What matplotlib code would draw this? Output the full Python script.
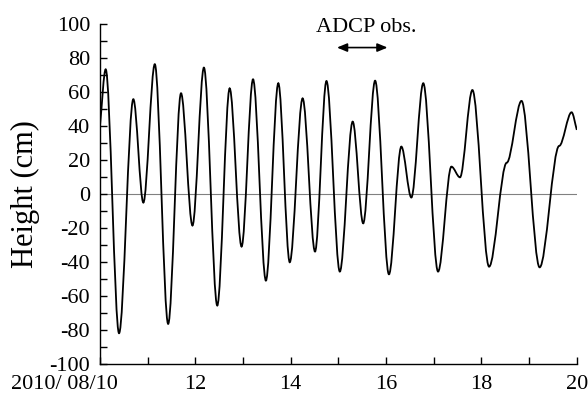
import numpy as np
import matplotlib
matplotlib.use("Agg")
import matplotlib.pyplot as plt
from matplotlib.path import Path
from matplotlib.patches import PathPatch
from matplotlib.transforms import ScaledTranslation

plt.rcParams['font.family'] = ['Liberation Serif', 'DejaVu Serif']

# -----------------------------
# Data: turning points of the tide curve
# (day of Aug 2010, height in cm)
# -----------------------------
days = [10.00, 10.12, 10.40, 10.70, 10.91, 11.15, 11.43, 11.70, 11.94,
        12.18, 12.46, 12.72, 12.97, 13.21, 13.48, 13.74, 13.98, 14.25,
        14.51, 14.75, 15.03, 15.30, 15.52, 15.77, 16.06, 16.32, 16.53,
        16.78, 17.09, 17.37, 17.55, 17.81, 18.16, 18.53, 18.84, 19.22,
        19.63, 19.89, 20.00]
height = [40.0, 73.5, -81.9, 55.9, -5.0, 76.5, -76.4, 59.4, -18.5,
          74.5, -65.6, 62.3, -30.9, 67.6, -50.9, 65.3, -40.1, 56.4,
          -33.8, 66.6, -45.6, 42.7, -17.2, 66.8, -47.2, 28.0, -2.0,
          65.3, -45.6, 16.2, 9.9, 61.3, -42.7, 18.5, 54.9, -43.1,
          28.4, 48.2, 37.8]

xticks = [10, 12, 14, 16, 18, 20]
xticklabels = ["2010/ 08/10", "12", "14", "16", "18", "20"]
yticks = list(range(-100, 101, 20))
yticklabels = [str(v) for v in yticks]

adcp_start, adcp_end = 14.97, 16.03

# -----------------------------
# Figure
# -----------------------------
fig = plt.figure(figsize=(5.88, 3.95), dpi=100)
ax = fig.add_axes([0.170, 0.0785, 0.811, 0.860])

ax.set_xlim(10, 20)
ax.set_ylim(-100, 100)

# smooth curve through the turning points (flat tangent at each point)
n = len(days)
verts = [(days[0], height[0])]
codes = [Path.MOVETO]
for i in range(n - 1):
    t0, t1 = days[i], days[i + 1]
    h0, h1 = height[i], height[i + 1]
    dt = t1 - t0
    c1 = (t0 + dt / 3, h0 if i > 0 else h0 + (h1 - h0) / 3)
    c2 = (t1 - dt / 3, h1 if i < n - 2 else h1 - (h1 - h0) / 3)
    verts += [c1, c2, (t1, h1)]
    codes += [Path.CURVE4] * 3
ax.add_patch(PathPatch(Path(verts, codes), fill=False, lw=1.3,
                       edgecolor="black", transform=ax.transData))

ax.axhline(0, color="#808080", lw=0.8, zorder=0)

# ADCP observation period
ax.annotate("", xy=(adcp_start, 86.3), xytext=(adcp_end, 86.3),
            arrowprops=dict(arrowstyle="<|-|>,head_length=0.6,head_width=0.25",
                            color="black", lw=1.2, shrinkA=0, shrinkB=0))
ax.text(15.58, 95.5, "ADCP obs.", ha="center", va="baseline",
        fontsize=16, clip_on=False)

# axes styling
for s in ["top", "right"]:
    ax.spines[s].set_visible(False)
for s in ["left", "bottom"]:
    ax.spines[s].set_linewidth(1.0)

ax.set_xticks(xticks)
ax.set_xticklabels(xticklabels, fontsize=16)
ax.set_xticks([11, 13, 15, 17, 19], minor=True)
ax.set_yticks(yticks)
ax.set_yticklabels(yticklabels, fontsize=16)
ax.set_yticks(list(range(-90, 91, 20)), minor=True)
ax.tick_params(which="both", direction="in", length=5, width=1)
ax.tick_params(axis="x", pad=8)
ax.tick_params(axis="y", pad=7)

first = ax.get_xticklabels()[0]
first.set_ha("right")
first.set_transform(first.get_transform() + ScaledTranslation(0.18, 0, fig.dpi_scale_trans))

ax.set_ylabel("Height (cm)", fontsize=22)
ax.yaxis.set_label_coords(-0.126, 0.5)

fig.savefig("out.png", dpi=100)
